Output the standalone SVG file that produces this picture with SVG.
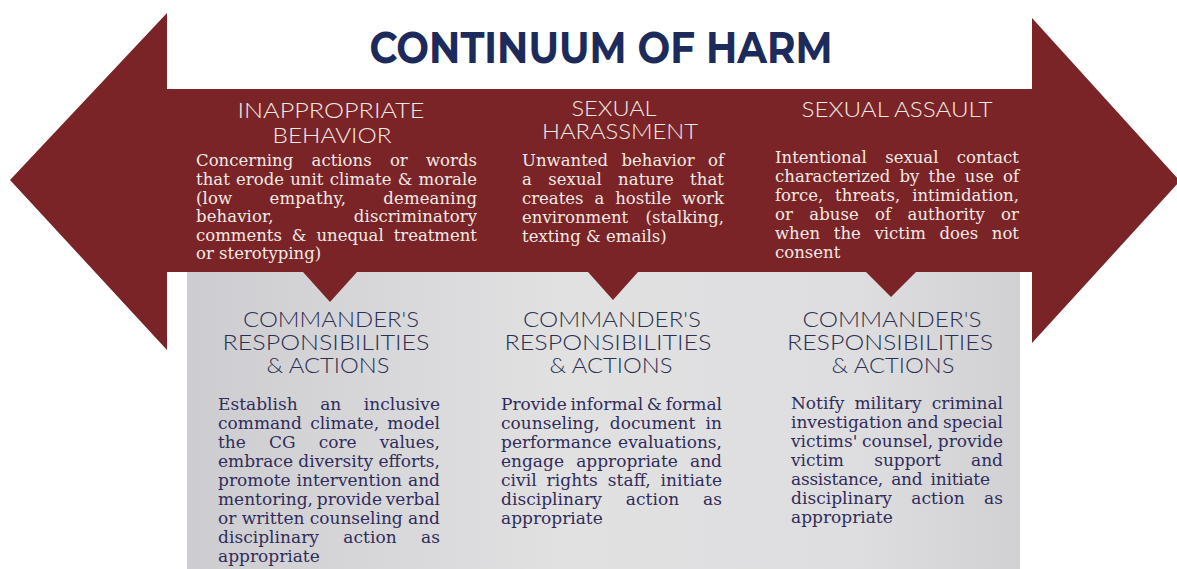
<svg xmlns="http://www.w3.org/2000/svg" width="1177" height="569" viewBox="0 0 1177 569">
  <defs>
    <linearGradient id="grayFill" x1="0" y1="0" x2="1" y2="0">
      <stop offset="0" stop-color="#cdcdd1"/>
      <stop offset="0.45" stop-color="#e1e1e2"/>
      <stop offset="0.8" stop-color="#dedee0"/>
      <stop offset="1" stop-color="#d1d1d4"/>
    </linearGradient>
    <style>
      .title { font-family: "Montserrat", "Liberation Sans", Arial, sans-serif; font-weight: 700; font-size: 43px; fill: #1c2a5c; }
      .hdr { font-family: "Lato", "Open Sans", "Liberation Sans", sans-serif; font-weight: 300; font-size: 21px; fill: #f3e9e5; }
      .chdr { font-family: "Lato", "Open Sans", "Liberation Sans", sans-serif; font-weight: 300; font-size: 21px; fill: #2c2f52; }
      .body { font-family: "DejaVu Serif", "Liberation Serif", serif; font-size: 16.5px; fill: #f3e9e5; }
      .gbody { font-family: "DejaVu Serif", "Liberation Serif", serif; font-size: 17px; fill: #302c5a; }
    </style>
  </defs>

  <rect x="0" y="0" width="1177" height="569" fill="#ffffff"/>

  <!-- gray panel -->
  <g id="panel">
    <rect x="187" y="272" width="833" height="300" fill="url(#grayFill)"/>
  </g>

  <!-- double-headed arrow with notches -->
  <g id="arrow">
    <path d="M10,180 L167,13 L167,89 L1032,89 L1032,18 L1180,181 L1032,343 L1032,272 L916,272 L891,297 L866,272 L638,272 L613,300 L588,272 L357,272 L330,302 L303,272 L167,272 L167,350 Z" fill="#7a2427"/>
  </g>

  <g id="title">
    <text class="title" x="601" y="63" text-anchor="middle" textLength="463" lengthAdjust="spacingAndGlyphs">CONTINUUM OF HARM</text>
  </g>

  <!-- Inappropriate behavior -->
  <g id="inappropriate-behavior">
    <text class="hdr" x="331" y="118" text-anchor="middle" textLength="187" lengthAdjust="spacingAndGlyphs">INAPPROPRIATE</text>
    <text class="hdr" x="332" y="143" text-anchor="middle" textLength="119" lengthAdjust="spacingAndGlyphs">BEHAVIOR</text>
    <text class="body" x="196" y="166" textLength="281" lengthAdjust="spacing" word-spacing="13">Concerning actions or words</text>
    <text class="body" x="196" y="185" textLength="281" lengthAdjust="spacing" word-spacing="1">that erode unit climate &amp; morale</text>
    <text class="body" x="196" y="204" textLength="281" lengthAdjust="spacing" word-spacing="32">(low empathy, demeaning</text>
    <text class="body" x="196" y="222" textLength="281" lengthAdjust="spacing" word-spacing="75">behavior, discriminatory</text>
    <text class="body" x="196" y="241" textLength="281" lengthAdjust="spacing" word-spacing="4.7">comments &amp; unequal treatment</text>
    <text class="body" x="196" y="259">or sterotyping)</text>
  </g>

  <!-- Sexual harassment -->
  <g id="sexual-harassment">
    <text class="hdr" x="614" y="116" text-anchor="middle" textLength="85" lengthAdjust="spacingAndGlyphs">SEXUAL</text>
    <text class="hdr" x="620" y="139" text-anchor="middle" textLength="156" lengthAdjust="spacingAndGlyphs">HARASSMENT</text>
    <text class="body" x="522" y="166" textLength="202" lengthAdjust="spacing" word-spacing="8">Unwanted behavior of</text>
    <text class="body" x="522" y="185" textLength="202" lengthAdjust="spacing" word-spacing="11">a sexual nature that</text>
    <text class="body" x="522" y="204" textLength="202" lengthAdjust="spacing" word-spacing="5.7">creates a hostile work</text>
    <text class="body" x="522" y="223" textLength="202" lengthAdjust="spacing" word-spacing="12">environment (stalking,</text>
    <text class="body" x="522" y="242">texting &amp; emails)</text>
  </g>

  <!-- Sexual assault -->
  <g id="sexual-assault">
    <text class="hdr" x="897" y="117" text-anchor="middle" textLength="191" lengthAdjust="spacingAndGlyphs">SEXUAL ASSAULT</text>
    <text class="body" x="775" y="163" textLength="244" lengthAdjust="spacing" word-spacing="13">Intentional sexual contact</text>
    <text class="body" x="775" y="182" textLength="244" lengthAdjust="spacing" word-spacing="4">characterized by the use of</text>
    <text class="body" x="775" y="201" textLength="244" lengthAdjust="spacing" word-spacing="6.7">force, threats, intimidation,</text>
    <text class="body" x="775" y="220" textLength="244" lengthAdjust="spacing" word-spacing="11">or abuse of authority or</text>
    <text class="body" x="775" y="239" textLength="244" lengthAdjust="spacing" word-spacing="8.4">when the victim does not</text>
    <text class="body" x="775" y="258">consent</text>
  </g>

  <!-- Commander responsibilities: left -->
  <g id="actions-inappropriate">
    <text class="chdr" x="331" y="327" text-anchor="middle" textLength="176" lengthAdjust="spacingAndGlyphs">COMMANDER'S</text>
    <text class="chdr" x="326" y="350" text-anchor="middle" textLength="207" lengthAdjust="spacingAndGlyphs">RESPONSIBILITIES</text>
    <text class="chdr" x="328" y="373" text-anchor="middle" textLength="123" lengthAdjust="spacingAndGlyphs">&amp; ACTIONS</text>
    <text class="gbody" x="218" y="410" textLength="222" lengthAdjust="spacing" word-spacing="17">Establish an inclusive</text>
    <text class="gbody" x="218" y="429" textLength="222" lengthAdjust="spacing" word-spacing="2.8">command climate, model</text>
    <text class="gbody" x="218" y="448" textLength="222" lengthAdjust="spacing" word-spacing="17.7">the CG core values,</text>
    <text class="gbody" x="218" y="467" textLength="222" lengthAdjust="spacing">embrace diversity efforts,</text>
    <text class="gbody" x="218" y="486" textLength="222" lengthAdjust="spacing" word-spacing="0.6">promote intervention and</text>
    <text class="gbody" x="218" y="505" textLength="222" lengthAdjust="spacing" word-spacing="-1.6">mentoring, provide verbal</text>
    <text class="gbody" x="218" y="524" textLength="222" lengthAdjust="spacing">or written counseling and</text>
    <text class="gbody" x="218" y="543" textLength="222" lengthAdjust="spacing" word-spacing="19">disciplinary action as</text>
    <text class="gbody" x="218" y="562">appropriate</text>
  </g>

  <!-- Commander responsibilities: middle -->
  <g id="actions-harassment">
    <text class="chdr" x="612" y="327" text-anchor="middle" textLength="178" lengthAdjust="spacingAndGlyphs">COMMANDER'S</text>
    <text class="chdr" x="608" y="350" text-anchor="middle" textLength="207" lengthAdjust="spacingAndGlyphs">RESPONSIBILITIES</text>
    <text class="chdr" x="611" y="373" text-anchor="middle" textLength="123" lengthAdjust="spacingAndGlyphs">&amp; ACTIONS</text>
    <text class="gbody" x="501" y="410" textLength="221" lengthAdjust="spacing" word-spacing="-1.6">Provide informal &amp; formal</text>
    <text class="gbody" x="501" y="429" textLength="221" lengthAdjust="spacing" word-spacing="4.8">counseling, document in</text>
    <text class="gbody" x="501" y="448" textLength="221" lengthAdjust="spacing" word-spacing="1.2">performance evaluations,</text>
    <text class="gbody" x="501" y="467" textLength="221" lengthAdjust="spacing" word-spacing="6.8">engage appropriate and</text>
    <text class="gbody" x="501" y="486" textLength="221" lengthAdjust="spacing" word-spacing="4.5">civil rights staff, initiate</text>
    <text class="gbody" x="501" y="505" textLength="221" lengthAdjust="spacing" word-spacing="18.5">disciplinary action as</text>
    <text class="gbody" x="501" y="524">appropriate</text>
  </g>

  <!-- Commander responsibilities: right -->
  <g id="actions-assault">
    <text class="chdr" x="892" y="327" text-anchor="middle" textLength="179" lengthAdjust="spacingAndGlyphs">COMMANDER'S</text>
    <text class="chdr" x="890" y="350" text-anchor="middle" textLength="206" lengthAdjust="spacingAndGlyphs">RESPONSIBILITIES</text>
    <text class="chdr" x="893" y="373" text-anchor="middle" textLength="123" lengthAdjust="spacingAndGlyphs">&amp; ACTIONS</text>
    <text class="gbody" x="791" y="409" textLength="212" lengthAdjust="spacing" word-spacing="4.8">Notify military criminal</text>
    <text class="gbody" x="791" y="428" textLength="212" lengthAdjust="spacing" word-spacing="-1.1">investigation and special</text>
    <text class="gbody" x="791" y="447" textLength="212" lengthAdjust="spacing" word-spacing="-0.8">victims' counsel, provide</text>
    <text class="gbody" x="791" y="466" textLength="212" lengthAdjust="spacing" word-spacing="24.8">victim support and</text>
    <text class="gbody" x="791" y="485" textLength="199" lengthAdjust="spacing" word-spacing="3">assistance, and initiate</text>
    <text class="gbody" x="791" y="504" textLength="212" lengthAdjust="spacing" word-spacing="14">disciplinary action as</text>
    <text class="gbody" x="791" y="523">appropriate</text>
  </g>
</svg>
